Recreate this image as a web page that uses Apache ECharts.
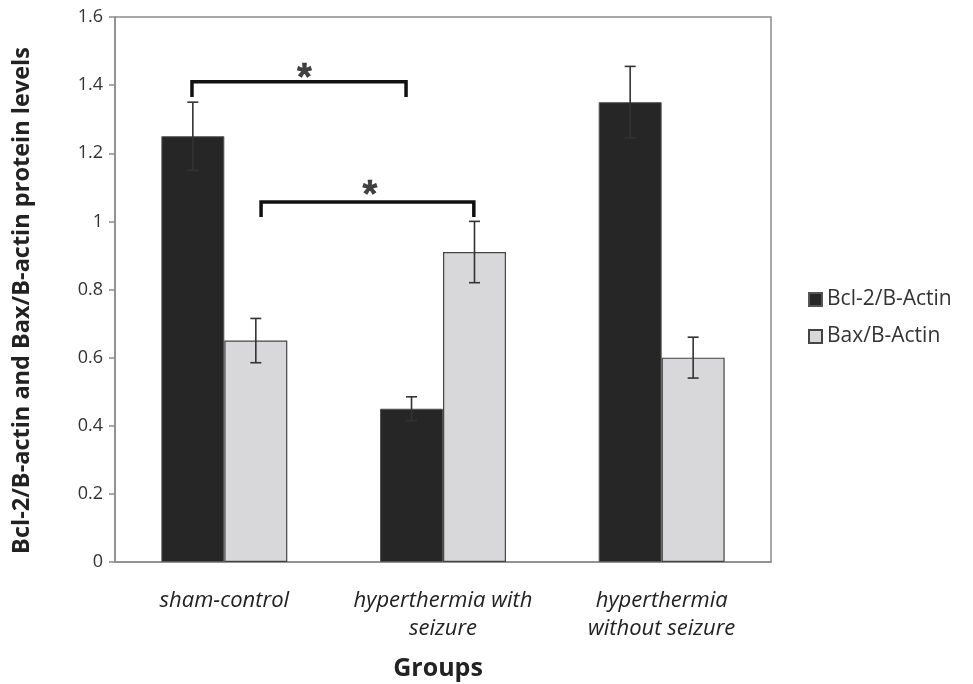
<!DOCTYPE html>
<html><head><meta charset="utf-8">
<script src="https://cdn.jsdelivr.net/npm/echarts@6/dist/echarts.min.js"></script>
<style>html,body{margin:0;padding:0;background:#fff}#c{width:973px;height:684px}</style>
</head><body><div id="c"></div>
<script>
var categories = ['sham-control', 'hyperthermia with\nseizure', 'hyperthermia\nwithout seizure'];
var seriesNames = ['Bcl-2/B-Actin', 'Bax/B-Actin'];
var bcl2 = [1.25, 0.45, 1.35];
var bcl2Err = [0.10, 0.035, 0.105];
var bax = [0.65, 0.91, 0.60];
var baxErr = [0.065, 0.09, 0.06];
var yTicks = [0, 0.2, 0.4, 0.6, 0.8, 1, 1.2, 1.4, 1.6];
// significance brackets in (group position, value) space
var bracket1 = [[0.352, 1.365], [0.352, 1.41], [1.331, 1.41], [1.331, 1.365]];
var bracket2 = [[0.668, 1.013], [0.668, 1.057], [1.641, 1.057], [1.641, 1.013]];
var stars = [[0.866, 1.417], [1.166, 1.072]];

var BAR_FRAC = 0.288;
var FONT = 'Open Sans';

function errSeries(vals, errs, side) {
  return {
    type: 'custom',
    xAxisIndex: 0, yAxisIndex: 0,
    z: 5,
    silent: true,
    data: vals.map(function (v, i) { return [i, v - errs[i], v + errs[i]]; }),
    renderItem: function (params, api) {
      var band = api.size([1, 0])[0];
      var off = side * band * BAR_FRAC / 2;
      var lo = api.coord([api.value(0), api.value(1)]);
      var hi = api.coord([api.value(0), api.value(2)]);
      var x = lo[0] + off;
      var cap = 5.5;
      var st = { stroke: '#333', lineWidth: 1.6 };
      return { type: 'group', children: [
        { type: 'line', shape: { x1: x, y1: lo[1], x2: x, y2: hi[1] }, style: st },
        { type: 'line', shape: { x1: x - cap, y1: lo[1], x2: x + cap, y2: lo[1] }, style: st },
        { type: 'line', shape: { x1: x - cap, y1: hi[1], x2: x + cap, y2: hi[1] }, style: st }
      ]};
    }
  };
}

function bracketSeries(pts) {
  return {
    type: 'line', xAxisIndex: 1, yAxisIndex: 0, data: pts, symbol: 'none',
    silent: true, z: 6,
    lineStyle: { color: '#111', width: 3.5, cap: 'butt', join: 'miter' }
  };
}

var chart = echarts.init(document.getElementById('c'));
chart.setOption({
  animation: false,
  backgroundColor: '#fff',
  grid: { left: 115, right: 202, top: 17, bottom: 122, outerBoundsMode: 'none', containLabel: false,
    show: true, borderColor: '#8c8c8c', borderWidth: 1.5 },
  legend: {
    orient: 'vertical', left: 803, top: 284, itemGap: 16,
    itemWidth: 13, itemHeight: 13,
    data: seriesNames.map(function (n) { return { name: n, icon: 'rect' }; }),
    textStyle: { fontFamily: FONT, fontSize: 21, color: '#333' }
  },
  xAxis: [{
    type: 'category', data: categories,
    axisLine: { lineStyle: { color: '#8c8c8c', width: 1.5 } },
    axisTick: { length: 8, lineStyle: { color: '#8c8c8c', width: 1.5 } },
    axisLabel: { interval: 0, fontFamily: FONT, fontStyle: 'italic', fontSize: 22, color: '#222', margin: 25, lineHeight: 28 },
    name: 'Groups', nameLocation: 'middle', nameGap: 94,
    nameTextStyle: { fontFamily: FONT, fontWeight: 'bold', fontSize: 25, color: '#222', padding: [0, 10, 0, 0] }
  }, {
    type: 'value', min: 0, max: 3, show: false
  }],
  yAxis: [{
    type: 'value', min: 0, max: 1.6, interval: 0.2,
    splitLine: { show: false },
    axisLine: { show: true, lineStyle: { color: '#8c8c8c', width: 1.5 } },
    axisTick: { show: true, length: 6, lineStyle: { color: '#8c8c8c', width: 1.5 } },
    axisLabel: { fontFamily: FONT, fontSize: 18, color: '#333', margin: 12,
      formatter: function (v) { var t = yTicks.filter(function (k) { return Math.abs(k - v) < 1e-9; }); return t.length ? String(t[0]) : ''; } },
    name: 'Bcl-2/B-actin and Bax/B-actin protein levels', nameLocation: 'middle', nameGap: 81,
    nameTextStyle: { fontFamily: FONT, fontWeight: 'bold', fontSize: 23.5, color: '#222', padding: [0, 22, 0, 0] }
  }],
  series: [
    { name: seriesNames[0], type: 'bar', data: bcl2, barWidth: (BAR_FRAC * 100) + '%', barGap: '0%',
      itemStyle: { color: '#272627', borderColor: '#555', borderWidth: 1 } },
    { name: seriesNames[1], type: 'bar', data: bax, barWidth: (BAR_FRAC * 100) + '%', barGap: '0%',
      itemStyle: { color: '#d8d8da', borderColor: '#444', borderWidth: 1.2 } },
    errSeries(bcl2, bcl2Err, -1),
    errSeries(bax, baxErr, 1),
    bracketSeries(bracket1),
    bracketSeries(bracket2),
    { type: 'scatter', xAxisIndex: 1, yAxisIndex: 0, data: stars, symbolSize: 0, silent: true, z: 7,
      label: { show: true, formatter: '*', position: 'inside', fontFamily: 'Liberation Sans', fontWeight: 'bold', fontSize: 38, color: '#111',
        textBorderColor: '#111', textBorderWidth: 0.5 } }
  ]
});
</script></body></html>
